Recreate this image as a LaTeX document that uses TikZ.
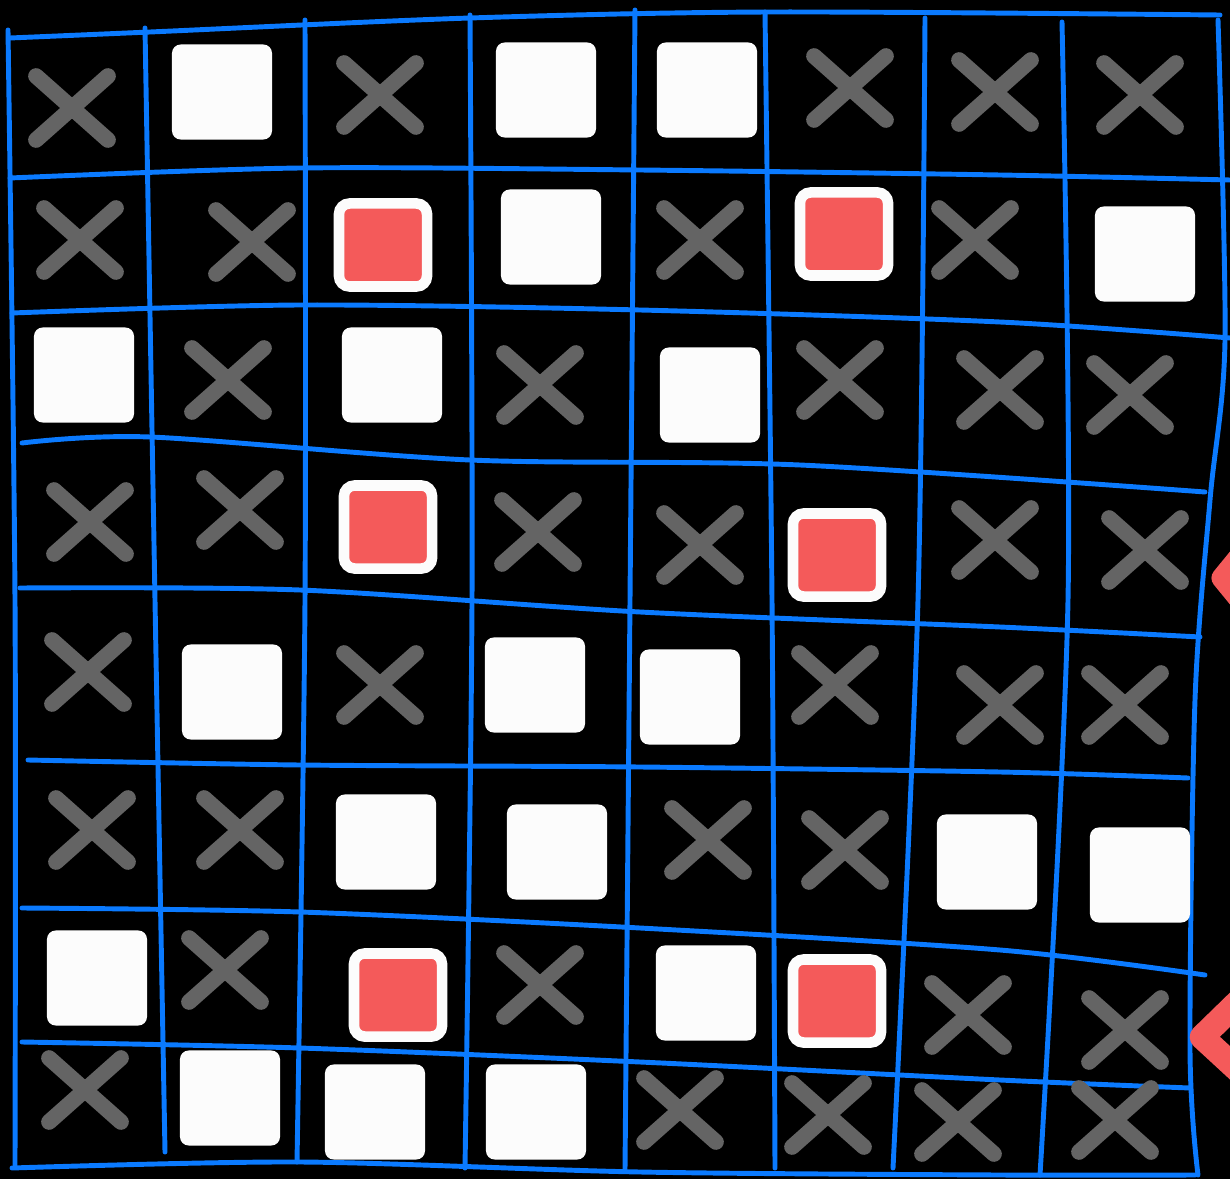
\documentclass[tikz,border=0pt]{standalone}
\usepackage{xcolor}
\usepackage{tikz}
\usetikzlibrary{shapes.misc}

\definecolor{gridblue}{RGB}{10,122,255}
\definecolor{markgray}{RGB}{100,100,100}
\definecolor{hitred}{RGB}{244,90,90}
\definecolor{paper}{RGB}{252,252,252}

\begin{document}
\begin{tikzpicture}[x=0.01cm, y=-0.01cm,
  gridline/.style={gridblue, line width=1.4pt, line cap=round},
  miss/.style={cross out, draw=markgray, line width=4.5pt, line cap=round,
    minimum width=0.56cm, minimum height=0.48cm, inner sep=0pt},
  open/.style={rectangle, fill=paper, rounded corners=2.5pt,
    minimum width=1cm, minimum height=0.95cm, inner sep=0pt},
  hit/.style={rectangle, fill=hitred, draw=paper, line width=3pt, rounded corners=3pt,
    minimum width=0.88cm, minimum height=0.83cm, inner sep=0pt}]
  % background
  \fill[black] (0,0) rectangle (1230,1179);
  \useasboundingbox (0,0) rectangle (1230,1179);
  % horizontal lines
  \draw[gridline] plot[smooth] coordinates {(10,38) (150,32) (470,18) (770,12) (1220,15)};
  \draw[gridline] plot[smooth] coordinates {(10,178) (300,168) (640,170) (1000,175) (1230,180)};
  \draw[gridline] plot[smooth] coordinates {(12,313) (300,305) (640,310) (1000,322) (1230,338)};
  \draw[gridline] plot[smooth] coordinates {(22,443) (150,437) (470,460) (800,465) (1205,492)};
  \draw[gridline] plot[smooth] coordinates {(20,588) (300,590) (640,612) (1000,627) (1200,637)};
  \draw[gridline] plot[smooth] coordinates {(28,760) (300,765) (640,767) (1000,772) (1188,778)};
  \draw[gridline] plot[smooth] coordinates {(22,908) (300,912) (640,928) (1000,950) (1205,975)};
  \draw[gridline] plot[smooth] coordinates {(22,1042) (300,1048) (640,1062) (1000,1080) (1190,1088)};
  \draw[gridline] plot[smooth] coordinates {(12,1168) (300,1162) (640,1172) (1000,1175) (1195,1175)};
  % vertical lines
  \draw[gridline] plot[smooth] coordinates {(8,30) (15,600) (15,1165)};
  \draw[gridline] plot[smooth] coordinates {(145,28) (155,600) (165,1152)};
  \draw[gridline] plot[smooth] coordinates {(305,20) (305,600) (297,1162)};
  \draw[gridline] plot[smooth] coordinates {(470,15) (472,600) (465,1168)};
  \draw[gridline] plot[smooth] coordinates {(635,10) (630,600) (625,1170)};
  \draw[gridline] plot[smooth] coordinates {(765,12) (772,600) (775,1168)};
  \draw[gridline] plot[smooth] coordinates {(925,18) (918,600) (893,1168)};
  \draw[gridline] plot[smooth] coordinates {(1062,22) (1068,600) (1040,1175)};
  \draw[gridline] plot[smooth] coordinates {(1218,20) (1225,340) (1210,500) (1195,700) (1190,1050) (1198,1175)};
  % open squares
  \foreach \x/\y/\n in {222/92/a, 546/90/b, 707/90/c, 551/237/d, 1145/254/e,
      84/375/f, 392/375/g, 710/395/h, 232/692/i, 535/685/j, 690/697/k,
      386/842/l, 557/852/m, 987/862/n, 1140/875/o, 97/978/p, 706/993/q,
      230/1098/r, 375/1112/s, 536/1112/t}
    \node[open] (open-\n) at (\x,\y) {};
  % hit squares
  \foreach \x/\y/\n in {383/245/a, 844/234/b, 388/527/c, 837/555/d, 398/995/e, 837/1001/f}
    \node[hit] (hit-\n) at (\x,\y) {};
  % misses
  \foreach \x/\y/\n in {72/108/a, 380/95/b, 850/88/c, 995/92/d, 1140/95/e,
      80/240/f, 252/242/g, 700/240/h, 975/240/i,
      228/380/j, 540/385/k, 840/380/l, 1000/390/m, 1130/395/n,
      90/522/o, 240/510/p, 538/532/q, 700/545/r, 995/540/s, 1145/550/t,
      88/672/u, 380/685/v, 835/685/w, 1000/705/x, 1125/705/y,
      92/830/z, 240/830/A, 708/840/B, 845/850/C,
      225/970/D, 540/985/E, 968/1015/F, 1125/1030/G,
      85/1090/H, 680/1110/I, 828/1115/J, 958/1122/K, 1115/1120/L}
    \node[miss] (miss-\n) at (\x,\y) {};
  % arrow tips at the edge
  \begin{scope}
    \clip (0,0) rectangle (1230,1179);
    \draw[hitred, line width=6pt, line cap=round, line join=round]
      (1240,556) -- (1222,578) -- (1240,600);
    \draw[hitred, line width=7pt, line cap=round, line join=round]
      (1240,1000) -- (1202,1037) -- (1240,1072);
  \end{scope}
\end{tikzpicture}
\end{document}
